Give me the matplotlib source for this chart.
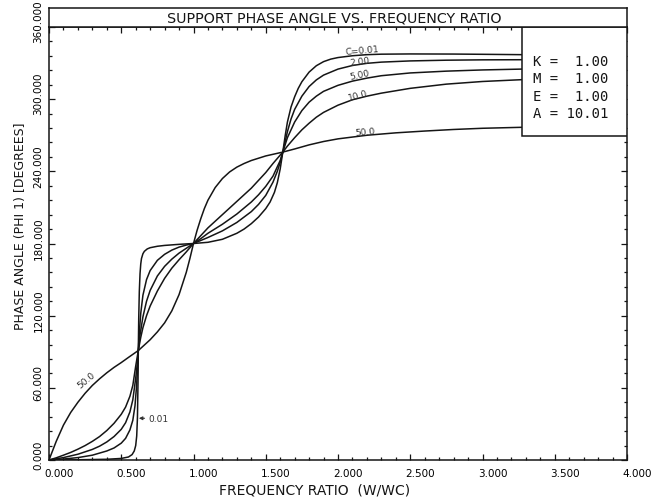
import matplotlib
matplotlib.use("Agg")
import matplotlib.pyplot as plt
from matplotlib.patches import Rectangle
from matplotlib.transforms import ScaledTranslation

# ---------------- data ----------------
c001_x = [0, 0.2, 0.4, 0.5, 0.55, 0.575, 0.59, 0.6, 0.607, 0.612, 0.616, 0.618, 0.621, 0.625,
          0.63, 0.635, 0.64, 0.65, 0.66, 0.68, 0.7, 0.75, 0.8, 0.9, 1.0, 1.1, 1.2, 1.3, 1.35,
          1.4, 1.45, 1.5, 1.53, 1.56, 1.58, 1.6, 1.618, 1.635, 1.65, 1.675, 1.7, 1.725, 1.75,
          1.8, 1.85, 1.9, 1.95, 2.0, 2.1, 2.2, 2.3, 2.5, 2.8, 3.0, 3.27]
c001_y = [0, 0.2, 0.6, 1.3, 2.5, 4.5, 7.5, 12, 20, 35, 65, 91, 118, 140,
          155, 163, 167.5, 171.5, 173.5, 175.5, 176.5, 177.7, 178.4, 179.3, 180, 181, 183.5, 188.5, 192,
          196.5, 202, 209, 214.5, 222.5, 230.5, 242, 256, 270, 281, 293.5, 302, 309, 314.5,
          322.5, 327.8, 331.2, 333.3, 334.6, 336.1, 337, 337.4, 337.6, 337.5, 337.3, 337]

c2_x = [0, 0.1, 0.2, 0.3, 0.4, 0.45, 0.5, 0.53, 0.56, 0.58, 0.595, 0.605, 0.612, 0.618, 0.625,
        0.635, 0.65, 0.675, 0.7, 0.75, 0.8, 0.85, 0.9, 0.95, 1.0, 1.05, 1.1, 1.2, 1.3, 1.4,
        1.45, 1.5, 1.55, 1.58, 1.6, 1.618, 1.635, 1.65, 1.675, 1.7, 1.75, 1.8, 1.85, 1.9, 2.0,
        2.1, 2.2, 2.3, 2.5, 2.75, 3.0, 3.27]
c2_y = [0, 0.8, 2, 4, 7.5, 10, 14, 18, 25, 33, 45, 60, 74, 91, 106,
        122, 137, 150, 157.5, 166, 171, 174.5, 177, 178.7, 180, 182.5, 185, 190.5, 197.5, 206.5,
        212.5, 220, 231, 240, 247.5, 256, 265, 273, 283.5, 291.5, 302.5, 310.5, 316, 320, 325,
        328, 329.8, 330.8, 331.8, 332.4, 332.7, 332.8]

c5_x = [0, 0.1, 0.2, 0.3, 0.35, 0.4, 0.45, 0.5, 0.53, 0.56, 0.58, 0.6, 0.61, 0.618, 0.63,
        0.65, 0.675, 0.7, 0.75, 0.8, 0.85, 0.9, 0.95, 1.0, 1.05, 1.1, 1.2, 1.3, 1.4, 1.45,
        1.5, 1.55, 1.6, 1.618, 1.65, 1.7, 1.75, 1.8, 1.85, 1.9, 2.0, 2.1, 2.2, 2.3, 2.5,
        2.75, 3.0, 3.27]
c5_y = [0, 2, 4.8, 8.8, 11.5, 15, 19.5, 25.5, 31, 40, 50, 68, 79, 91, 104,
        119, 132, 141, 153, 161, 167, 172, 176, 180, 184, 188.5, 196, 204.5, 214.5, 220.5,
        227.5, 236, 249, 256, 268, 281, 290.5, 297.5, 302.5, 306.5, 311.5, 315, 317.5, 319.5, 321.8,
        323.3, 324.3, 325]

c10_x = [0, 0.05, 0.1, 0.15, 0.2, 0.25, 0.3, 0.35, 0.4, 0.45, 0.5, 0.53, 0.56, 0.58, 0.6,
         0.618, 0.635, 0.65, 0.675, 0.7, 0.75, 0.8, 0.85, 0.9, 0.95, 1.0, 1.05, 1.1, 1.2, 1.3,
         1.4, 1.5, 1.55, 1.6, 1.618, 1.65, 1.7, 1.75, 1.8, 1.85, 1.9, 2.0, 2.1, 2.2, 2.3,
         2.5, 2.75, 3.0, 3.27]
c10_y = [0, 1.8, 4, 6.3, 9, 12, 15.5, 19.5, 24.5, 30.5, 38, 44, 53, 62, 78,
         91, 102, 110, 120, 128, 140.5, 151, 159.5, 166.5, 173, 180, 186.5, 193, 204, 215,
         226, 239, 246.5, 253.5, 256, 261, 268, 274.5, 280, 285, 289, 295, 299.5, 302.5, 305,
         309, 312.5, 314.7, 316.2]

c50_x = [0, 0.05, 0.1, 0.15, 0.2, 0.25, 0.3, 0.35, 0.4, 0.45, 0.5, 0.55, 0.6, 0.618, 0.65,
         0.7, 0.75, 0.8, 0.85, 0.9, 0.95, 0.975, 1.0, 1.025, 1.05, 1.075, 1.1, 1.15, 1.2, 1.25,
         1.3, 1.35, 1.4, 1.5, 1.618, 1.7, 1.8, 1.9, 2.0, 2.2, 2.4, 2.6, 2.8, 3.0, 3.27]
c50_y = [0, 15.5, 29, 39.5, 48, 55.5, 62, 67.5, 72.5, 77, 81, 85.3, 89.5, 91, 94.5,
         100, 106.5, 114, 124, 137.5, 156, 167.5, 180, 191, 200.5, 209, 216, 226.5, 234, 239.5,
         243.5, 246.5, 249, 252.8, 256, 258.6, 262, 264.8, 267, 270, 272, 273.5, 274.8, 275.8, 276.6]

xtick_vals = [0.0, 0.5, 1.0, 1.5, 2.0, 2.5, 3.0, 3.5, 4.0]
xtick_labels = ["0.000", "0.500", "1.000", "1.500", "2.000", "2.500", "3.000", "3.500", "4.000"]
ytick_vals = [0, 60, 120, 180, 240, 300, 360]
ytick_labels = ["0.000", "60.000", "120.000", "180.000", "240.000", "300.000", "360.000"]

param_lines = ["K =  1.00", "M =  1.00", "E =  1.00", "A = 10.01"]

title = "SUPPORT PHASE ANGLE VS. FREQUENCY RATIO"
xlabel = "FREQUENCY RATIO  (W/WC)"
ylabel = "PHASE ANGLE (PHI 1) [DEGREES]"

# ---------------- figure ----------------
W, H = 660, 502
fig = plt.figure(figsize=(W / 100, H / 100), dpi=100)
fig.patch.set_facecolor("white")

ax = fig.add_axes([49 / W, (H - 461) / H, 578 / W, 433 / H])
ink = "#151515"
for xs, ys in [(c001_x, c001_y), (c2_x, c2_y), (c5_x, c5_y), (c10_x, c10_y), (c50_x, c50_y)]:
    ax.plot(xs, ys, color=ink, lw=1.1, zorder=2, solid_joinstyle="round")

ax.set_xlim(0, 4)
ax.set_ylim(0, 360)
ax.set_xticks(xtick_vals)
ax.set_xticklabels(xtick_labels, fontsize=7.5)
ax.set_yticks(ytick_vals)
ax.set_yticklabels(ytick_labels, fontsize=7.5, rotation=90, va="center")
ax.set_xticks([i * 0.1 for i in range(41)], minor=True)
ax.set_yticks([i * 12 for i in range(31)], minor=True)
ax.tick_params(which="both", direction="in", top=True, right=True, color=ink, width=0.9)
ax.tick_params(which="major", length=4.5)
ax.tick_params(which="minor", length=2.2)
ax.tick_params(axis="x", pad=6)
ax.tick_params(axis="y", pad=4)
for sp in ax.spines.values():
    sp.set_linewidth(1.1)
    sp.set_color(ink)

for lab in ax.get_xticklabels():
    lab.set_transform(lab.get_transform() + ScaledTranslation(10 / 100, 0, fig.dpi_scale_trans))
for lab in ax.get_yticklabels():
    lab.set_transform(lab.get_transform() + ScaledTranslation(0, 6 / 100, fig.dpi_scale_trans))

# parameter box
ax.add_patch(Rectangle((3.27, 269.6), 0.73, 90.4, facecolor="white", edgecolor=ink,
                       lw=1.1, zorder=3))
for i, t in enumerate(param_lines):
    ax.text(3.35, 332 - i * 14.5, t, family="DejaVu Sans Mono", fontsize=10,
            ha="left", va="center", color=ink, zorder=4)

# curve labels
lab_kw = dict(fontsize=6.5, color="#333333", ha="center", va="baseline", zorder=4)
ax.text(2.17, 337.5, "C=0.01", rotation=5, **lab_kw)
ax.text(2.15, 328.5, "2.00", rotation=8, **lab_kw)
ax.text(2.15, 316.5, "5.00", rotation=12, **lab_kw)
ax.text(2.14, 299.5, "10.0", rotation=15, **lab_kw)
ax.text(2.19, 270.0, "50.0", rotation=5, **lab_kw)
ax.text(0.26, 67, "50.0", rotation=40, fontsize=6.5, color="#333333",
        ha="center", va="center", zorder=4)
ax.annotate("0.01", xy=(0.622, 34.7), xytext=(0.69, 34.7), fontsize=6.5, color="#333333",
            ha="left", va="center",
            arrowprops=dict(arrowstyle="-|>", lw=0.8, color="#333333",
                            mutation_scale=5, shrinkA=1, shrinkB=0))

# title box
tax = fig.add_axes([49 / W, (H - 28) / H, 578 / W, 19 / H])
tax.set_xticks([])
tax.set_yticks([])
for sp in tax.spines.values():
    sp.set_linewidth(1.1)
    sp.set_color(ink)
tax.text(0.493, 0.5, title, ha="center", va="center", fontsize=10.3, color=ink)

fig.text(315 / W, 1 - 491 / H, xlabel, ha="center", va="center", fontsize=10, color=ink)
fig.text(21 / W, 1 - 226 / H, ylabel, ha="center", va="center", rotation=90,
         fontsize=9, color=ink)

fig.savefig("out.png", dpi=100, facecolor="white")
